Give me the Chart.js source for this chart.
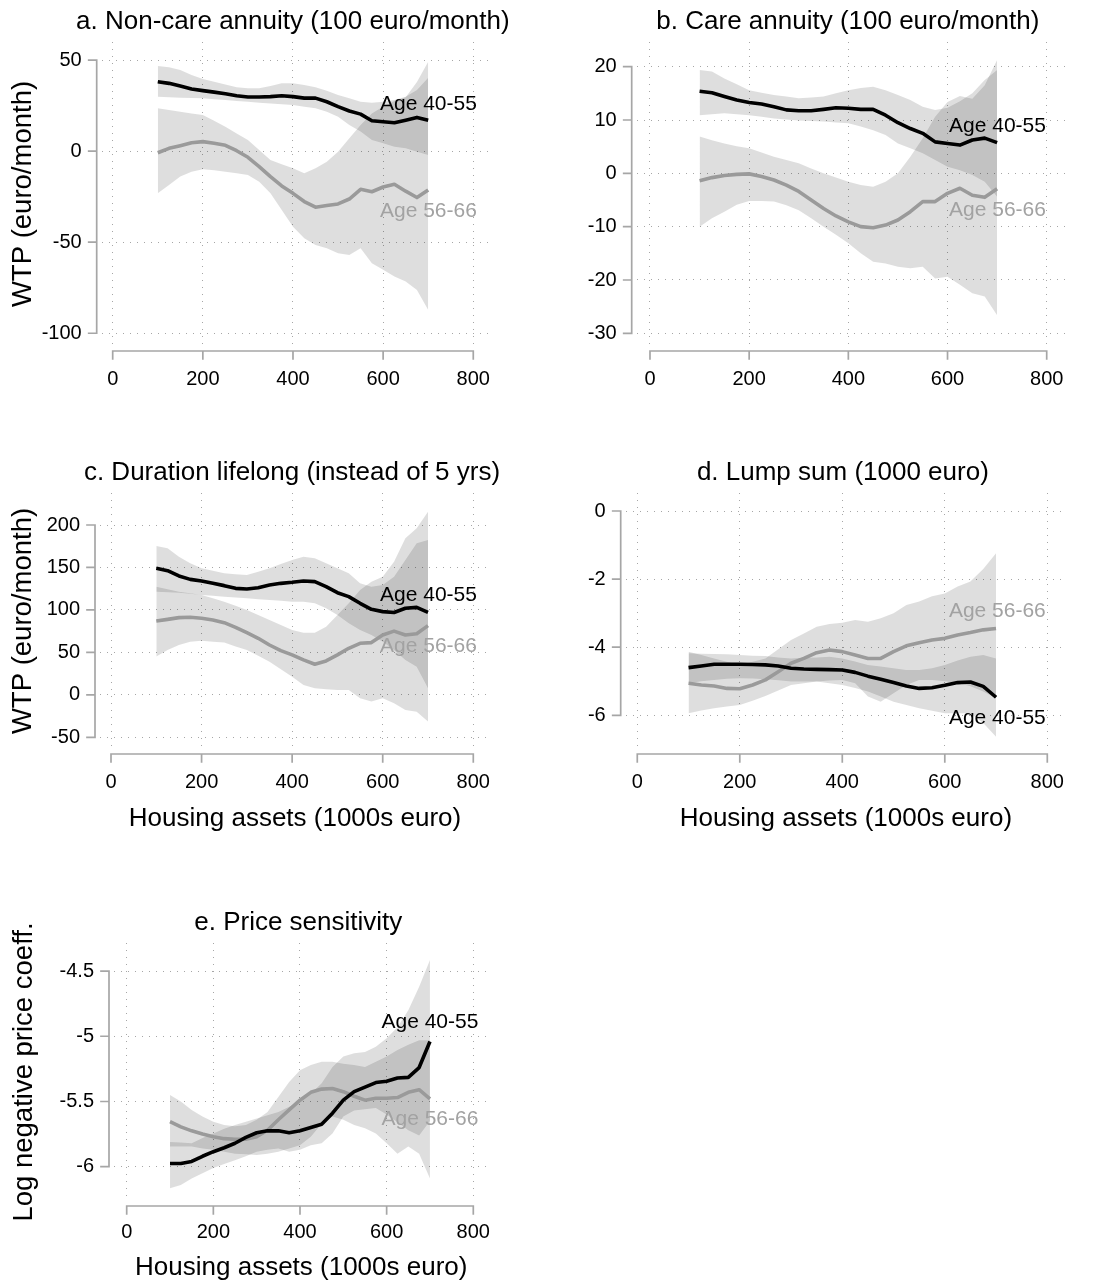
<!DOCTYPE html>
<html>
<head>
<meta charset="utf-8">
<script src="https://cdn.jsdelivr.net/npm/chart.js@4.4.1/dist/chart.umd.min.js"></script>
<style>
  html, body { margin: 0; padding: 0; background: #fff; }
  #page { position: relative; width: 1100px; height: 1288px; background: #fff; overflow: hidden; }
  canvas { position: absolute; }
</style>
</head>
<body>
<div id="page">
  <canvas id="panelA" width="550" height="440" style="left:0px;top:0px"></canvas>
  <canvas id="panelB" width="550" height="440" style="left:550px;top:0px"></canvas>
  <canvas id="panelC" width="550" height="420" style="left:0px;top:440px"></canvas>
  <canvas id="panelD" width="550" height="420" style="left:550px;top:440px"></canvas>
  <canvas id="panelE" width="550" height="428" style="left:0px;top:860px"></canvas>
</div>
<script>
// Housing assets grid (1000s euro) at which the smoothed estimates are evaluated
const housing = [100, 125, 150, 175, 200, 225, 250, 275, 300, 325, 350, 375, 400, 425, 450, 475, 500, 525, 550, 575, 600, 625, 650, 675, 700];
const housingTicks = [0, 200, 400, 600, 800];

// a. Non-care annuity (100 euro/month)
const nonCareTicks = [-100, -50, 0, 50];
const nonCareYoung   = [38.1, 37.2, 35.7, 34.1, 33.2, 32.4, 31.5, 30.4, 29.7, 29.7, 29.9, 30.4, 29.9, 29.1, 29.1, 27.1, 24.4, 22.0, 20.3, 16.7, 16.1, 15.6, 17.0, 18.5, 17.0];
const nonCareYoungLo = [29.9, 29.6, 29.3, 29.1, 29.0, 28.5, 28.0, 27.5, 27.1, 26.6, 26.2, 25.7, 25.3, 24.4, 23.5, 21.6, 18.9, 14.3, 10.7, 6.1, 4.3, 2.4, 1.5, -0.3, -2.1];
const nonCareYoungHi = [46.7, 46.0, 44.5, 41.8, 39.6, 38.1, 36.6, 35.0, 34.5, 34.5, 35.7, 37.2, 37.2, 36.3, 35.0, 33.2, 30.8, 29.0, 27.1, 26.6, 27.1, 28.0, 29.9, 33.5, 40.3];
const nonCareOld     = [-0.9, 1.5, 3.0, 4.6, 5.2, 4.3, 3.2, 0.2, -3.4, -8.5, -14.0, -19.1, -23.2, -27.7, -30.8, -29.9, -29.0, -26.3, -21.0, -22.3, -19.7, -18.2, -22.0, -25.5, -21.3];
const nonCareOldLo   = [-23.2, -18.6, -14.0, -11.3, -10.0, -10.5, -11.3, -12.2, -13.1, -16.8, -23.2, -32.3, -41.5, -47.9, -51.5, -53.3, -56.1, -57.0, -53.3, -61.6, -65.2, -68.9, -71.6, -76.2, -87.2];
const nonCareOldHi   = [23.5, 22.6, 21.6, 20.7, 19.8, 16.6, 13.4, 9.7, 6.1, 0.6, -4.9, -7.2, -9.4, -12.2, -9.4, -5.8, -0.3, 7.0, 14.3, 20.7, 24.5, 27.5, 29.5, 38.0, 49.1];

// b. Care annuity (100 euro/month)
const careTicks = [-30, -20, -10, 0, 10, 20];
const careYoung   = [15.4, 15.1, 14.4, 13.75, 13.3, 13.0, 12.5, 11.9, 11.75, 11.75, 12.0, 12.3, 12.2, 12.0, 12.0, 10.9, 9.5, 8.4, 7.5, 5.9, 5.6, 5.3, 6.25, 6.6, 5.75];
const careYoungLo = [10.9, 11.1, 11.25, 11.1, 10.9, 10.6, 10.3, 10.1, 9.9, 9.8, 9.7, 9.55, 9.4, 8.8, 8.1, 7.2, 5.6, 4.7, 3.75, 2.5, 1.25, 0.6, -0.3, -1.6, -4.4];
const careYoungHi = [19.4, 19.1, 17.8, 16.7, 15.6, 15.1, 14.7, 14.4, 14.1, 14.2, 14.4, 15.0, 15.6, 16.0, 16.25, 15.6, 14.7, 13.75, 12.5, 11.9, 12.3, 13.5, 15.0, 17.5, 19.4];
const careOld     = [-1.4, -0.8, -0.4, -0.2, -0.1, -0.6, -1.25, -2.2, -3.4, -5.0, -6.6, -8.0, -9.1, -10.0, -10.2, -9.7, -8.75, -7.2, -5.3, -5.3, -3.75, -2.8, -4.1, -4.5, -2.9];
const careOldLo   = [-10.0, -8.4, -7.2, -5.9, -5.2, -5.2, -5.3, -6.0, -6.9, -8.4, -10.0, -11.5, -13.1, -15.0, -16.6, -16.9, -17.5, -17.8, -17.5, -19.7, -19.4, -20.9, -22.5, -23.1, -26.6];
const careOldHi   = [6.9, 6.2, 5.6, 5.1, 4.7, 3.9, 3.1, 2.5, 1.9, 0.9, 0.0, -0.8, -1.6, -2.2, -2.5, -1.6, 0.0, 3.1, 6.6, 10.6, 13.4, 14.5, 14.0, 16.5, 21.25];

// c. Duration lifelong (instead of 5 yrs)
const durationTicks = [-50, 0, 50, 100, 150, 200];
const durationYoung   = [149, 146.2, 140, 136, 134, 131.3, 128.6, 125.4, 124.6, 126.2, 129.4, 131.3, 132.5, 134, 133.3, 127.4, 120.3, 115.6, 107.8, 100.7, 98, 97, 101.9, 103, 97.2];
const durationYoungLo = [121.5, 120.9, 120.3, 119, 117.6, 116.6, 115.6, 114.6, 113.7, 112.7, 111.7, 110.7, 109.7, 109.7, 107.8, 101.9, 94, 84.2, 76.4, 70.5, 62.6, 52.8, 41, 33.2, 7.7];
const durationYoungHi = [175.3, 172.5, 162.7, 154.9, 149, 146, 143.1, 142, 141.1, 145, 149, 154, 158.8, 162.7, 160.8, 154.9, 149, 143.1, 131.3, 127.4, 129.4, 139.2, 158.8, 178.4, 182.3];
const durationOld     = [87, 88.9, 90.9, 91.3, 90.1, 88.1, 85, 79.5, 73.2, 66.6, 58.7, 52, 47, 41.1, 36, 39.9, 47, 54.8, 60.7, 61.5, 70.5, 75, 70.5, 72, 81.5];
const durationOldLo   = [45, 52.8, 58.7, 62.6, 63.8, 62.6, 61.5, 57, 52.8, 46, 39.1, 30, 21.4, 11.6, 7.7, 6.7, 5.7, 5.7, -4.1, -8, -4.1, -10, -17.8, -20, -31.5];
const durationOldHi   = [127.4, 124.3, 121.5, 119.5, 117.6, 113.7, 109.7, 104.8, 99.9, 94, 88.1, 82.2, 76.4, 73.2, 73.2, 80.3, 94, 107.8, 123.5, 133.3, 139.2, 156.8, 184.3, 196.1, 215.7];

// d. Lump sum (1000 euro)
const lumpTicks = [-6, -4, -2, 0];
const lumpYoung   = [-4.6, -4.55, -4.5, -4.5, -4.5, -4.51, -4.52, -4.55, -4.62, -4.64, -4.65, -4.66, -4.67, -4.74, -4.85, -4.94, -5.04, -5.14, -5.21, -5.19, -5.12, -5.04, -5.02, -5.15, -5.47];
const lumpYoungLo = [-5.06, -5.0, -4.96, -4.93, -4.91, -4.92, -4.94, -4.97, -5.01, -5.01, -5.01, -5.06, -5.11, -5.2, -5.3, -5.45, -5.6, -5.7, -5.79, -5.87, -5.94, -5.94, -5.94, -6.23, -6.63];
const lumpYoungHi = [-4.18, -4.19, -4.2, -4.21, -4.23, -4.25, -4.26, -4.3, -4.33, -4.31, -4.3, -4.28, -4.33, -4.42, -4.52, -4.57, -4.62, -4.67, -4.67, -4.62, -4.52, -4.39, -4.28, -4.23, -4.33];
const lumpOld     = [-5.06, -5.11, -5.14, -5.21, -5.22, -5.11, -4.96, -4.72, -4.47, -4.33, -4.16, -4.08, -4.13, -4.23, -4.33, -4.33, -4.13, -3.96, -3.87, -3.79, -3.74, -3.64, -3.57, -3.49, -3.45];
const lumpOldLo   = [-5.94, -5.86, -5.79, -5.74, -5.7, -5.57, -5.43, -5.27, -5.11, -5.06, -5.01, -4.98, -4.96, -5.06, -5.45, -5.6, -5.35, -5.11, -4.96, -4.96, -5.0, -5.05, -5.15, -5.3, -5.5];
const lumpOldHi   = [-4.13, -4.23, -4.33, -4.43, -4.52, -4.43, -4.33, -4.06, -3.79, -3.6, -3.4, -3.32, -3.28, -3.2, -3.25, -3.15, -3.0, -2.76, -2.66, -2.5, -2.42, -2.22, -2.07, -1.7, -1.24];

// e. Price sensitivity (log negative price coefficient)
const priceTicks = [-6, -5.5, -5, -4.5];
const priceYoung   = [-5.975, -5.975, -5.96, -5.92, -5.885, -5.855, -5.82, -5.775, -5.74, -5.725, -5.725, -5.74, -5.725, -5.7, -5.675, -5.59, -5.49, -5.425, -5.39, -5.355, -5.345, -5.32, -5.315, -5.24, -5.04];
const priceYoungLo = [-6.165, -6.14, -6.09, -6.05, -6.01, -5.98, -5.95, -5.92, -5.885, -5.87, -5.86, -5.885, -5.87, -5.835, -5.82, -5.745, -5.615, -5.57, -5.56, -5.55, -5.6, -5.66, -5.72, -5.76, -5.65];
const priceYoungHi = [-5.81, -5.815, -5.82, -5.78, -5.745, -5.71, -5.68, -5.655, -5.63, -5.605, -5.58, -5.54, -5.5, -5.44, -5.36, -5.235, -5.155, -5.13, -5.12, -5.08, -5.015, -4.93, -4.8, -4.62, -4.415];
const priceOld     = [-5.655, -5.695, -5.725, -5.75, -5.77, -5.785, -5.79, -5.79, -5.77, -5.72, -5.64, -5.565, -5.49, -5.43, -5.405, -5.4, -5.425, -5.46, -5.49, -5.475, -5.475, -5.47, -5.43, -5.41, -5.48];
const priceOldLo   = [-5.845, -5.845, -5.845, -5.86, -5.87, -5.885, -5.9, -5.905, -5.91, -5.9, -5.885, -5.86, -5.835, -5.77, -5.67, -5.615, -5.64, -5.68, -5.705, -5.745, -5.82, -5.9, -5.845, -5.9, -6.09];
const priceOldHi   = [-5.45, -5.5, -5.565, -5.615, -5.655, -5.68, -5.69, -5.68, -5.64, -5.58, -5.465, -5.35, -5.26, -5.22, -5.195, -5.195, -5.21, -5.22, -5.235, -5.195, -5.155, -5.105, -5.065, -5.03, -5.03];

// Group labels and axis titles
const youngLabel = 'Age 40-55';
const oldLabel = 'Age 56-66';
const wtpTitle = 'WTP (euro/month)';
const housingTitle = 'Housing assets (1000s euro)';

// Styling
const FONT = '"Liberation Sans", Arial, Helvetica, sans-serif';
const BLACK = '#000000';
const GRAY_LINE = '#9a9a9a';
const GRAY_TEXT = '#a2a2a2';
const BAND = 'rgba(0,0,0,0.13)';
const GRID = '#a6a6a6';
const AXIS = '#a6a6a6';

const toPoints = ys => housing.map((x, i) => ({ x: x, y: ys[i] }));

function lineSet(ys, color) {
  return { data: toPoints(ys), borderColor: color, borderWidth: 3.6, pointRadius: 0,
           fill: false, tension: 0, borderJoinStyle: 'round', borderCapStyle: 'butt' };
}
function bandSet(ys, fillPrev) {
  return { data: toPoints(ys), borderColor: 'rgba(0,0,0,0)', borderWidth: 0, pointRadius: 0,
           fill: fillPrev ? '-1' : false, backgroundColor: BAND, tension: 0 };
}

// Stata-style axes: a line spanning the tick range, set off from the plot region
function frameAxesPlugin(gap, tickLen) {
  return {
    id: 'frameAxes',
    afterDraw(chart) {
      const { ctx, chartArea: ca, scales } = chart;
      const xs = scales.x, ys = scales.y;
      ctx.save();
      ctx.strokeStyle = AXIS;
      ctx.lineWidth = 1.7;
      ctx.lineCap = 'square';
      const ax = ca.left - gap;
      const yp = ys.ticks.map(t => ys.getPixelForValue(t.value));
      ctx.beginPath();
      ctx.moveTo(ax, Math.min(...yp));
      ctx.lineTo(ax, Math.max(...yp));
      yp.forEach(p => { ctx.moveTo(ax, p); ctx.lineTo(ax - tickLen, p); });
      const ay = ca.bottom + gap;
      const xp = xs.ticks.map(t => xs.getPixelForValue(t.value));
      ctx.moveTo(Math.min(...xp), ay);
      ctx.lineTo(Math.max(...xp), ay);
      xp.forEach(p => { ctx.moveTo(p, ay); ctx.lineTo(p, ay + tickLen); });
      ctx.stroke();
      ctx.restore();
    }
  };
}

// Panel heading, centred a little left of the plot region's middle
function headingPlugin(text) {
  return {
    id: 'panelHeading',
    afterDraw(chart) {
      const { ctx, chartArea: ca } = chart;
      ctx.save();
      ctx.font = '26px ' + FONT;
      ctx.fillStyle = BLACK;
      ctx.textAlign = 'center';
      ctx.textBaseline = 'middle';
      ctx.fillText(text, (ca.left + ca.right) / 2 - 3, ca.top - 20);
      ctx.restore();
    }
  };
}

// Text labels naming each age group, anchored in data coordinates
function groupLabelPlugin(items) {
  return {
    id: 'groupLabels',
    afterDatasetsDraw(chart) {
      const { ctx, scales } = chart;
      ctx.save();
      ctx.font = '21px ' + FONT;
      ctx.textAlign = 'left';
      ctx.textBaseline = 'middle';
      items.forEach(it => {
        ctx.fillStyle = it.color;
        ctx.fillText(it.text, scales.x.getPixelForValue(it.x), scales.y.getPixelForValue(it.y));
      });
      ctx.restore();
    }
  };
}

function makePanel(cfg) {
  const datasets = [
    lineSet(cfg.young, BLACK),
    lineSet(cfg.old, GRAY_LINE),
    bandSet(cfg.youngLo, false),
    bandSet(cfg.youngHi, true),
    bandSet(cfg.oldLo, false),
    bandSet(cfg.oldHi, true)
  ];
  return new Chart(document.getElementById(cfg.id), {
    type: 'line',
    data: { datasets: datasets },
    options: {
      responsive: false,
      animation: false,
      devicePixelRatio: 1,
      events: [],
      layout: { padding: cfg.padding },
      plugins: {
        legend: { display: false },
        tooltip: { enabled: false },
        title: { display: false },
        filler: { drawTime: 'beforeDatasetsDraw', propagate: false }
      },
      scales: {
        x: {
          type: 'linear', min: cfg.xMin, max: cfg.xMax,
          afterBuildTicks: s => { s.ticks = housingTicks.map(v => ({ value: v })); },
          afterFit: s => { s.height = cfg.xHeight; },
          grid: { color: GRID, lineWidth: 1, drawTicks: false },
          border: { display: false, dash: [1, 6] },
          ticks: { color: BLACK, font: { family: FONT, size: 20 }, padding: cfg.xTickPad,
                   autoSkip: false, maxRotation: 0, minRotation: 0, callback: v => String(v) },
          title: { display: !!cfg.xTitle, text: cfg.xTitle || '', color: BLACK,
                   font: { family: FONT, size: 26, lineHeight: 1.2 },
                   padding: { top: 0, bottom: cfg.xTitlePad || 0 } }
        },
        y: {
          type: 'linear', min: cfg.yMin, max: cfg.yMax,
          afterBuildTicks: s => { s.ticks = cfg.yTicks.map(v => ({ value: v })); },
          afterFit: s => { s.width = cfg.yWidth; },
          grid: { color: GRID, lineWidth: 1, drawTicks: false },
          border: { display: false, dash: [1, 6] },
          ticks: { color: BLACK, font: { family: FONT, size: 20 }, padding: 20,
                   autoSkip: false, callback: v => String(v) },
          title: { display: !!cfg.yTitle, text: cfg.yTitle || '', color: BLACK,
                   font: { family: FONT, size: 27.5, lineHeight: 1.2 },
                   padding: { top: cfg.yTitlePad || 0, bottom: 0 } }
        }
      }
    },
    plugins: [frameAxesPlugin(5, 8), headingPlugin(cfg.title), groupLabelPlugin(cfg.labels)]
  });
}

makePanel({
  id: 'panelA', title: 'a. Non-care annuity (100 euro/month)',
  young: nonCareYoung, youngLo: nonCareYoungLo, youngHi: nonCareYoungHi,
  old: nonCareOld, oldLo: nonCareOldLo, oldHi: nonCareOldHi,
  yTicks: nonCareTicks, xMin: -24.4, xMax: 837.1, yMin: -107.0, yMax: 59.9,
  padding: { left: 0, right: 60, top: 42, bottom: 0 },
  yWidth: 101.7, xHeight: 94, xTickPad: 21,
  yTitle: wtpTitle, yTitlePad: 6.8,
  labels: [
    { text: youngLabel, color: BLACK, x: 593, y: 25.9 },
    { text: oldLabel, color: GRAY_TEXT, x: 593, y: -33.2 }
  ]
});

makePanel({
  id: 'panelB', title: 'b. Care annuity (100 euro/month)',
  young: careYoung, youngLo: careYoungLo, youngHi: careYoungHi,
  old: careOld, oldLo: careOldLo, oldHi: careOldHi,
  yTicks: careTicks, xMin: -26.8, xMax: 836.9, yMin: -32.38, yMax: 24.63,
  padding: { left: 0, right: 35, top: 42, bottom: 0 },
  yWidth: 86.7, xHeight: 94, xTickPad: 21,
  labels: [
    { text: youngLabel, color: BLACK, x: 603, y: 8.9 },
    { text: oldLabel, color: GRAY_TEXT, x: 603, y: -7.0 }
  ]
});

makePanel({
  id: 'panelC', title: 'c. Duration lifelong (instead of 5 yrs)',
  young: durationYoung, youngLo: durationYoungLo, youngHi: durationYoungHi,
  old: durationOld, oldLo: durationOldLo, oldHi: durationOldHi,
  yTicks: durationTicks, xMin: -24.3, xMax: 836.9, yMin: -63.8, yMax: 237.7,
  padding: { left: 0, right: 60, top: 53, bottom: 0 },
  yWidth: 100, xHeight: 111, xTickPad: 21,
  yTitle: wtpTitle, yTitlePad: 6.8, xTitle: housingTitle, xTitlePad: 25.2,
  labels: [
    { text: youngLabel, color: BLACK, x: 594, y: 117.6 },
    { text: oldLabel, color: GRAY_TEXT, x: 594, y: 56.8 }
  ]
});

makePanel({
  id: 'panelD', title: 'd. Lump sum (1000 euro)',
  young: lumpYoung, youngLo: lumpYoungLo, youngHi: lumpYoungHi,
  old: lumpOld, oldLo: lumpOldLo, oldHi: lumpOldHi,
  yTicks: lumpTicks, xMin: -22.6, xMax: 836.5, yMin: -6.99, yMax: 0.529,
  padding: { left: 0, right: 34, top: 53, bottom: 0 },
  yWidth: 75.7, xHeight: 111, xTickPad: 21,
  xTitle: housingTitle, xTitlePad: 25.2,
  labels: [
    { text: oldLabel, color: GRAY_TEXT, x: 608, y: -2.93 },
    { text: youngLabel, color: BLACK, x: 608, y: -6.09 }
  ]
});

makePanel({
  id: 'panelE', title: 'e. Price sensitivity',
  young: priceYoung, youngLo: priceYoungLo, youngHi: priceYoungHi,
  old: priceOld, oldLo: priceOldLo, oldHi: priceOldHi,
  yTicks: priceTicks, xMin: -29.3, xMax: 835.1, yMin: -6.263, yMax: -4.285,
  padding: { left: 0, right: 61.5, top: 83, bottom: 0 },
  yWidth: 114, xHeight: 87, xTickPad: 19.5,
  yTitle: 'Log negative price coeff.', yTitlePad: 7.5, xTitle: housingTitle, xTitlePad: 4.1,
  labels: [
    { text: youngLabel, color: BLACK, x: 588, y: -4.896 },
    { text: oldLabel, color: GRAY_TEXT, x: 588, y: -5.637 }
  ]
});
</script>
</body>
</html>
